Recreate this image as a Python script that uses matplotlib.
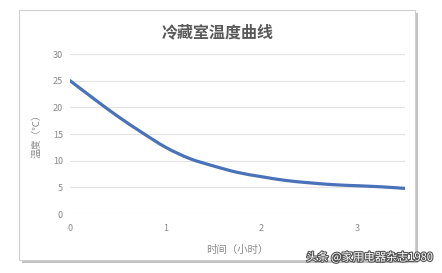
import matplotlib
matplotlib.use("Agg")
import matplotlib.pyplot as plt
import matplotlib.patheffects as pe
from matplotlib.patches import Rectangle, PathPatch
from matplotlib.path import Path
import numpy as np

plt.rcParams['font.family'] = ['Noto Sans CJK SC', 'DejaVu Sans']

hours = [0, 0.25, 0.5, 0.75, 1.0, 1.25, 1.5, 1.75, 2.0, 2.25, 2.5, 2.75, 3.0, 3.25, 3.5]
temps = [25.0, 21.6, 18.3, 15.3, 12.5, 10.4, 9.0, 7.8, 7.0, 6.3, 5.85, 5.5, 5.3, 5.1, 4.8]
x_ticks = [0, 1, 2, 3]
y_ticks = [0, 5, 10, 15, 20, 25, 30]
title = "冷藏室温度曲线"
xlabel = "时间（小时）"
ylabel = "温度（℃）"
watermark = "头条 @家用电器杂志1980"

W, H = 442, 273
fig = plt.figure(figsize=(W / 100, H / 100), dpi=100)
fig.patch.set_facecolor('white')

def fx(px):
    return px / W

def fy(py):
    return 1 - py / H

# chart frame with shadow
fig.patches.append(Rectangle((fx(22), fy(263)), fx(396), (260 - 10) / H,
                             transform=fig.transFigure, facecolor='#9a9a9a',
                             edgecolor='none', alpha=0.6, zorder=0))
fig.patches.append(Rectangle((fx(19), fy(260)), fx(396), (260 - 10) / H,
                             transform=fig.transFigure, facecolor='white',
                             edgecolor='#cfcfcf', linewidth=0.8, zorder=1))

ax = fig.add_axes([fx(70), fy(214), fx(405 - 70), (214 - 54) / H])
ax.set_zorder(3)
ax.set_facecolor('none')

# smoothed line through the data points (Catmull-Rom as cubic Bezier, like a spreadsheet "smooth line")
pts = np.column_stack([hours, temps])
verts = [tuple(pts[0])]
codes = [Path.MOVETO]
n = len(pts)
for i in range(n - 1):
    p0 = pts[i - 1] if i > 0 else pts[i]
    p1 = pts[i]
    p2 = pts[i + 1]
    p3 = pts[i + 2] if i + 2 < n else pts[i + 1]
    c1 = p1 + (p2 - p0) / 6.0
    c2 = p2 - (p3 - p1) / 6.0
    verts += [tuple(c1), tuple(c2), tuple(p2)]
    codes += [Path.CURVE4] * 3
ax.add_patch(PathPatch(Path(verts, codes), facecolor='none', edgecolor='#4a72b8',
                       linewidth=2.3, capstyle='round', joinstyle='round', zorder=3))

ax.set_xlim(0, 3.5)
ax.set_ylim(0, 30)
ax.set_xticks(x_ticks)
ax.set_yticks(y_ticks)
ax.grid(axis='y', color='#e3e3e3', linewidth=0.8)
ax.set_axisbelow(True)
for s in ax.spines.values():
    s.set_visible(False)
ax.tick_params(length=0, labelsize=6.5, colors='#8a8a8a', pad=5)
ax.tick_params(axis='x', pad=7)

ax.set_xlabel(xlabel, fontsize=7.5, color='#8a8a8a', labelpad=9)
ax.set_ylabel(ylabel, fontsize=7, color='#8a8a8a', labelpad=8)

fig.text(fx(218), fy(32), title, fontsize=11.5, color='#595959',
         fontweight='bold', ha='center', va='center', zorder=4)

fig.text(fx(433), fy(257), watermark, fontsize=8, color='white',
         ha='right', va='center', zorder=5,
         path_effects=[pe.withStroke(linewidth=1.6, foreground='#555555')])

fig.savefig('out.png', dpi=100)
